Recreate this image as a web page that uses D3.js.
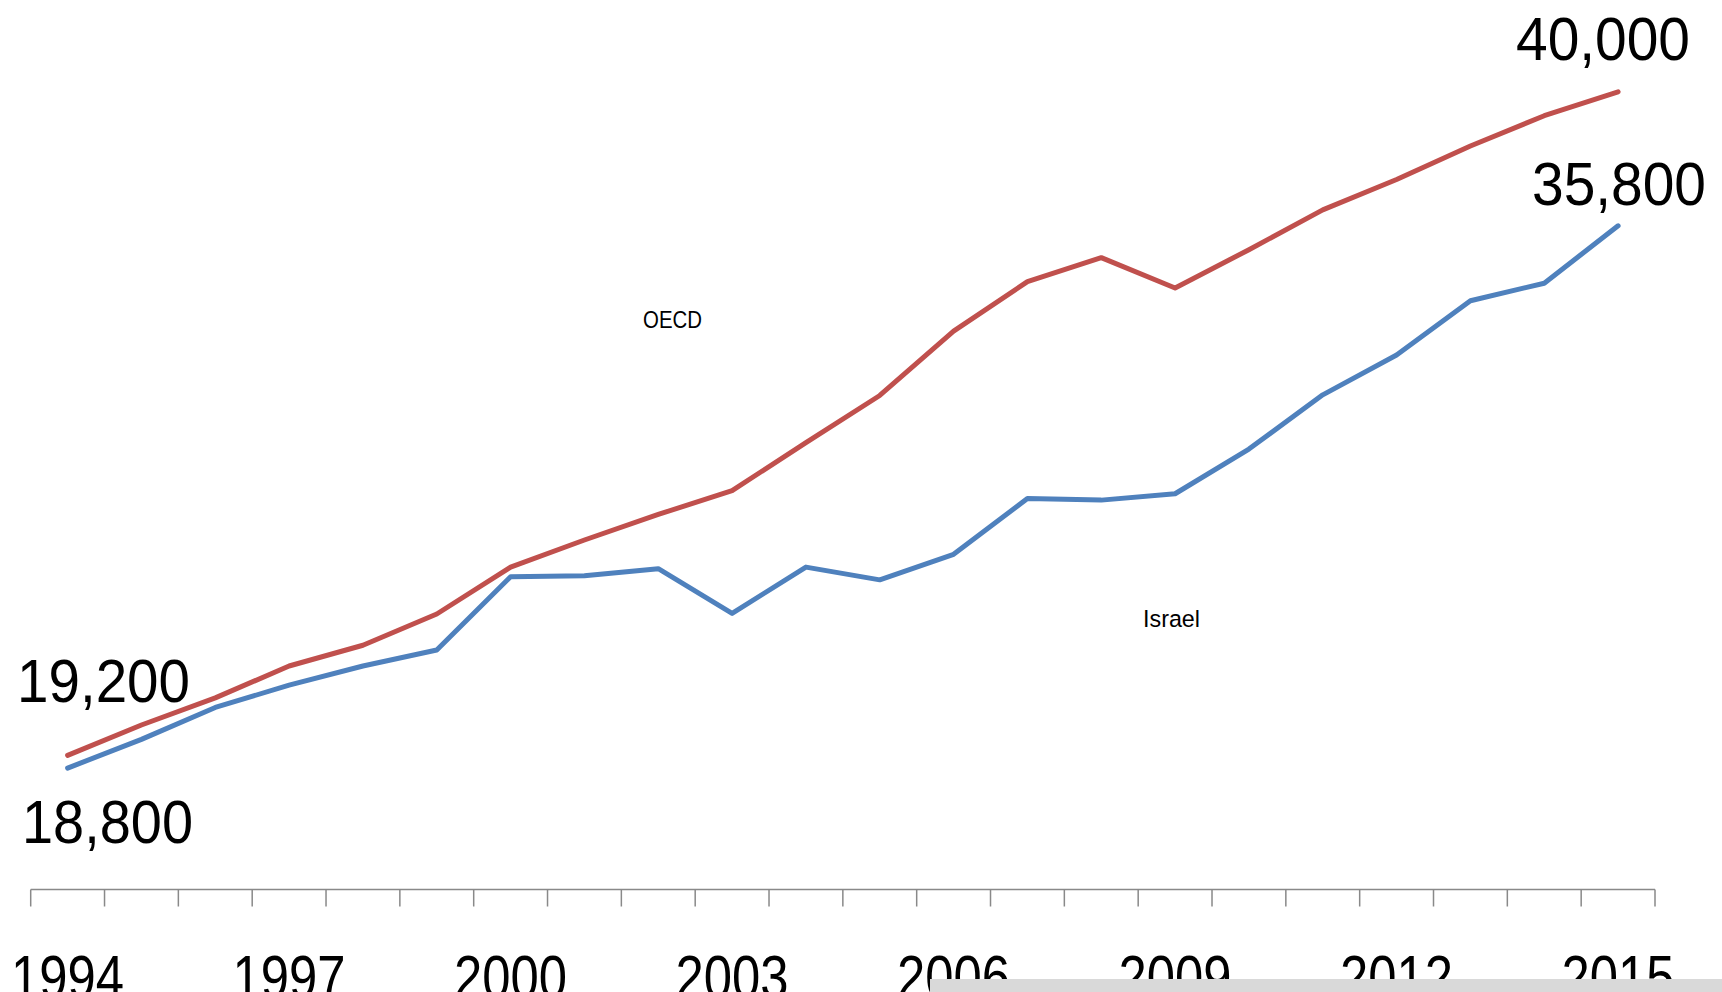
<!DOCTYPE html>
<html>
<head>
<meta charset="utf-8">
<script src="https://cdn.jsdelivr.net/npm/d3@7"></script>
<style>
  html, body { margin: 0; padding: 0; background: #fff; overflow: hidden; }
  svg { display: block; }
  .big { font-family: "Liberation Sans", Arial, sans-serif; }
</style>
</head>
<body>
<svg id="chart" width="1722" height="992"></svg>
<script>
// ---- data ----
const years = d3.range(1994, 2016);
const oecd = [19200, 20150, 21000, 22000, 22650, 23630, 25100, 25950, 26750, 27500, 29000,
              30480, 32500, 34050, 34800, 33850, 35050, 36300, 37250, 38300, 39250, 40000];
const israel = [18800, 19700, 20700, 21400, 22000, 22500, 24800, 24830, 25050, 23650, 25100,
                24700, 25500, 27250, 27200, 27400, 28800, 30500, 31750, 33450, 34000, 35800];
const tickLabelYears = [1994, 1997, 2000, 2003, 2006, 2009, 2012, 2015];
const seriesNames = ["OECD", "Israel"];
const endLabels = ["19,200", "18,800", "40,000", "35,800"];

// ---- layout ----
const svg = d3.select("#chart");
const x = d3.scaleBand().domain(years).range([30.7, 1655]).padding(0);
const y = d3.scaleLinear().domain([0, 42000]).range([1367.8, 1367.8 - 0.0319 * 42000]);
const axisY = 889.5;
const colors = ["#C0504D", "#4F81BD"];
const cx = d => x(d) + x.bandwidth() / 2;

// axis line and ticks at band boundaries
const g = svg.append("g");
g.append("line")
  .attr("x1", x.range()[0]).attr("x2", x.range()[1])
  .attr("y1", axisY).attr("y2", axisY)
  .attr("stroke", "#898989").attr("stroke-width", 1.6);
const bounds = years.map(d => x(d)).concat([x.range()[1]]);
g.selectAll("line.tick").data(bounds).join("line")
  .attr("class", "tick")
  .attr("x1", d => d).attr("x2", d => d)
  .attr("y1", axisY).attr("y2", axisY + 17)
  .attr("stroke", "#898989").attr("stroke-width", 1.5);

// lines
const line = d3.line().x((d, i) => cx(years[i])).y(d => y(d));
[oecd, israel].forEach((s, k) => {
  svg.append("path")
    .datum(s)
    .attr("d", line)
    .attr("fill", "none")
    .attr("stroke", colors[k])
    .attr("stroke-width", 5)
    .attr("stroke-linejoin", "round")
    .attr("stroke-linecap", "round");
});

// series labels
const nameLabel = [
  { x: 643, y: 328, w: 59 },
  { x: 1143, y: 627, w: 57 }
];
seriesNames.forEach((n, k) => {
  svg.append("text")
    .attr("class", "big")
    .attr("x", nameLabel[k].x).attr("y", nameLabel[k].y)
    .attr("font-size", 24.5)
    .attr("textLength", nameLabel[k].w)
    .attr("lengthAdjust", "spacingAndGlyphs")
    .attr("fill", "#000")
    .text(n);
});

// end labels
const endPos = [
  { x: 17, y: 702, w: 173 },
  { x: 22, y: 843, w: 171 },
  { x: 1516, y: 60, w: 174 },
  { x: 1532, y: 205, w: 174 }
];
endLabels.forEach((t, i) => {
  svg.append("text")
    .attr("class", "big")
    .attr("x", endPos[i].x).attr("y", endPos[i].y)
    .attr("font-size", 62)
    .attr("textLength", endPos[i].w)
    .attr("lengthAdjust", "spacingAndGlyphs")
    .attr("fill", "#000")
    .text(t);
});

// year labels
svg.selectAll("text.year").data(tickLabelYears).join("text")
  .attr("class", "year big")
  .attr("x", d => cx(d) - 56.5)
  .attr("y", 997.5)
  .attr("font-size", 62)
  .attr("textLength", 113)
  .attr("lengthAdjust", "spacingAndGlyphs")
  .attr("fill", "#000")
  .text(d => d);

// gray strip at the bottom right
svg.append("rect")
  .attr("x", 930).attr("y", 979).attr("width", 1722 - 930).attr("height", 13)
  .attr("fill", "#d9d9d9");
</script>
</body>
</html>
